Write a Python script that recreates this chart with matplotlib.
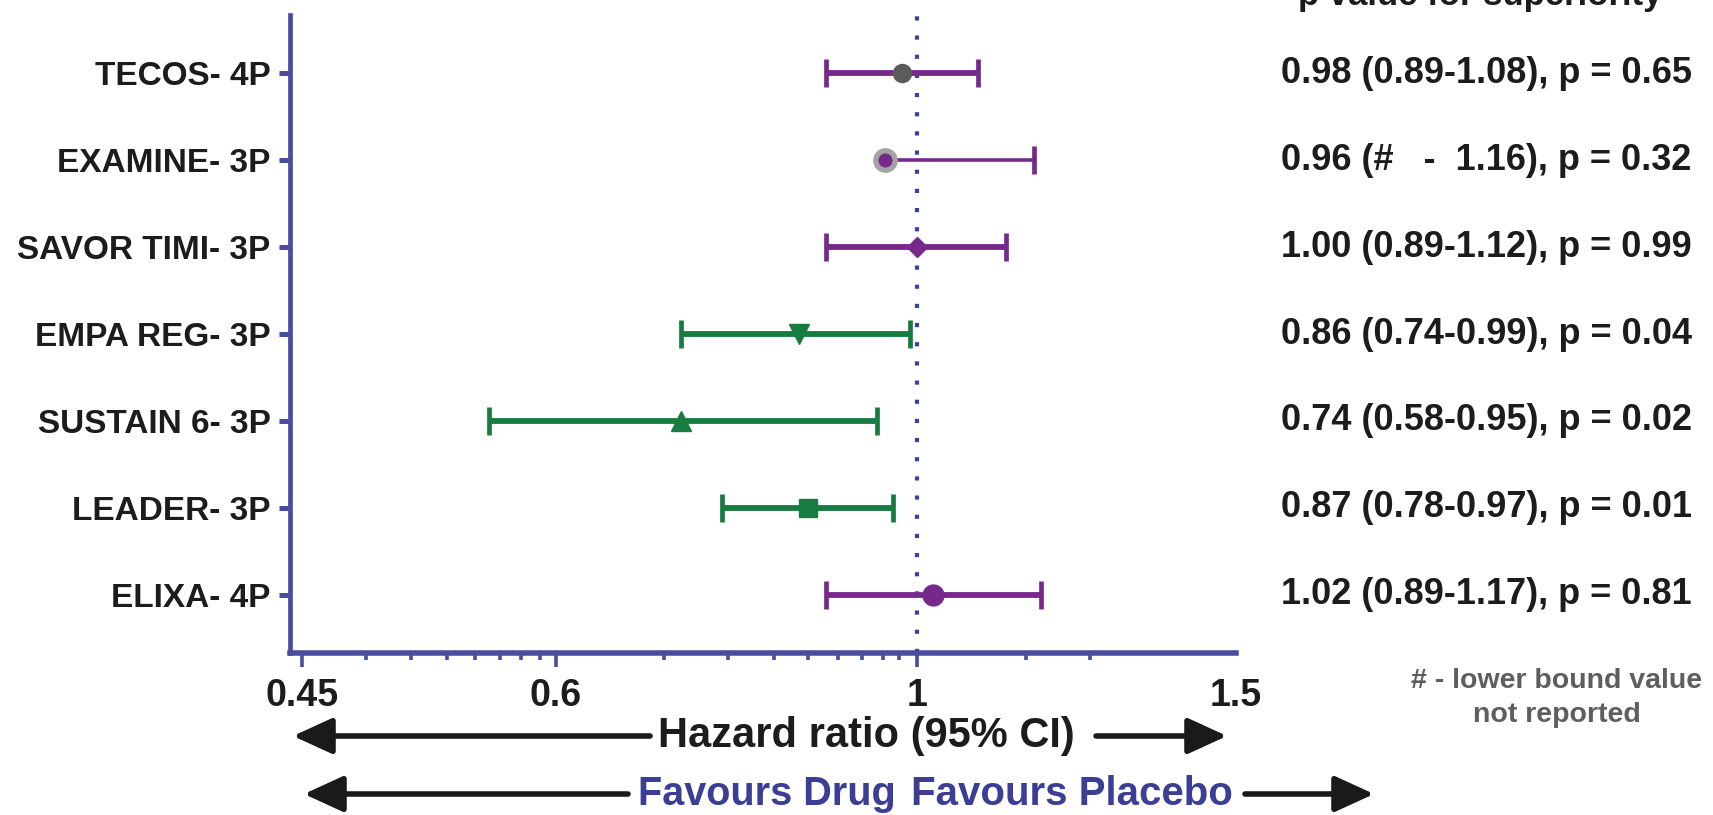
import numpy as np
import matplotlib
matplotlib.use("Agg")
import matplotlib.pyplot as plt
from matplotlib.patches import FancyArrowPatch

plt.rcParams['font.family'] = ['Liberation Sans', 'DejaVu Sans']
plt.rcParams['font.weight'] = 'bold'

# data, top row first
trials = ["TECOS- 4P", "EXAMINE- 3P", "SAVOR TIMI- 3P", "EMPA REG- 3P",
          "SUSTAIN 6- 3P", "LEADER- 3P", "ELIXA- 4P"]
hr = [0.98, 0.96, 1.00, 0.86, 0.74, 0.87, 1.02]
ci_low = [0.89, np.nan, 0.89, 0.74, 0.58, 0.78, 0.89]
ci_high = [1.08, 1.16, 1.12, 0.99, 0.95, 0.97, 1.17]
summary = ["0.98 (0.89-1.08), p = 0.65",
           "0.96 (#   -  1.16), p = 0.32",
           "1.00 (0.89-1.12), p = 0.99",
           "0.86 (0.74-0.99), p = 0.04",
           "0.74 (0.58-0.95), p = 0.02",
           "0.87 (0.78-0.97), p = 0.01",
           "1.02 (0.89-1.17), p = 0.81"]

xtick_vals = [0.457, 0.631, 1.0, 1.5]
xtick_labels = ["0.45", "0.6", "1", "1.5"]
xtick_minor = [0.4955, 0.5248, 0.5497, 0.5697, 0.5882, 0.6041, 0.6189,
               0.7247, 0.7860, 0.8330, 0.8704, 0.9037, 0.9317, 0.9576, 0.9768,
               1.1481, 1.2457]

purple = "#77298b"
green = "#177c40"
axcol = "#4a4d9f"
txt = "#1c1c1c"

styles = [
    dict(color=purple, marker="o", mfc="#5b5b5b", mec="#5b5b5b", ms=13, lw=4.2),
    dict(color=purple, marker="o", mfc=purple, mec="#a3a3a3", ms=14, mew=3.8, lw=2.6),
    dict(color=purple, marker="D", mfc=purple, mec=purple, ms=10, lw=4.2),
    dict(color=green, marker="v", mfc=green, mec=green, ms=14, lw=4.2),
    dict(color=green, marker="^", mfc=green, mec=green, ms=14, lw=4.2),
    dict(color=green, marker="s", mfc=green, mec=green, ms=13, lw=4.2),
    dict(color=purple, marker="o", mfc=purple, mec=purple, ms=15, lw=4.2),
]

fig = plt.figure(figsize=(17.13, 8.15), dpi=100)
ax = fig.add_axes([290/1713, 1-653/815, (1236-290)/1713, (653-15)/815])

n = len(trials)
ypos = np.arange(n, 0, -1)

ax.axvline(1.0, color="#3b3fa3", lw=3, dashes=(1.0, 3.6), zorder=1)

for i in range(n):
    st = styles[i]
    lo = ci_low[i]
    left = 0 if np.isnan(lo) else hr[i] - lo
    right = ci_high[i] - hr[i]
    line, caps, bars = ax.errorbar(hr[i], ypos[i], xerr=[[left], [right]],
                                   fmt="none", ecolor=st["color"],
                                   elinewidth=st["lw"], capsize=10,
                                   capthick=3.4, zorder=2)
    if np.isnan(lo):
        caps[0].set_visible(False)
    ax.plot(hr[i], ypos[i], linestyle="none", marker=st["marker"],
            markersize=st["ms"], markerfacecolor=st["mfc"],
            markeredgecolor=st["mec"], markeredgewidth=st.get("mew", 1),
            zorder=3)

ax.set_xscale("log")
ax.set_xlim(0.45, 1.5)
ax.set_ylim(0.33, 7.67)

ax.set_xticks(xtick_vals)
ax.set_xticklabels(xtick_labels)
ax.set_xticks(xtick_minor, minor=True)
ax.xaxis.set_minor_formatter(plt.NullFormatter())
ax.xaxis.get_major_ticks()[-1].tick1line.set_visible(False)

ax.set_yticks(ypos)
ax.set_yticklabels(trials)

for s in ["top", "right"]:
    ax.spines[s].set_visible(False)
ax.spines["left"].set_color(axcol)
ax.spines["left"].set_linewidth(3.4)
ax.spines["bottom"].set_color(axcol)
ax.spines["bottom"].set_linewidth(4)

ax.tick_params(axis="y", length=8, width=3.6, color=axcol, pad=6,
               labelsize=24, labelcolor=txt)
ax.tick_params(axis="x", which="major", length=10, width=2.6, color=axcol,
               pad=8, labelsize=27, labelcolor=txt)
ax.tick_params(axis="x", which="minor", length=5, width=2.6, color=axcol)

# summary text on the right
for i in range(n):
    ax.annotate(summary[i], xy=(1, ypos[i]), xycoords=("figure fraction", "data"),
                xytext=(1281/1713, 0), textcoords=("figure fraction", "offset points"),
                ha="left", va="center", fontsize=26, color=txt)

fig.text(1480/1713, 1-5/815, "p value for superiority", ha="center",
         va="baseline", fontsize=25, color=txt)

fig.text(1557/1713, 1-698/815, "# - lower bound value\nnot reported",
         ha="center", va="center", fontsize=20.5, color="#5e5e5e",
         linespacing=1.4)

fig.text(866/1713, 1-736/815, "Hazard ratio (95% CI)", ha="center",
         va="center", fontsize=30, color=txt)
fig.text(896/1713, 1-794/815, "Favours Drug", ha="right", va="center",
         fontsize=28.5, color="#3c3e96")
fig.text(911/1713, 1-794/815, "Favours Placebo", ha="left", va="center",
         fontsize=29, color="#3c3e96")


def arrow(x0, x1, y):
    a = FancyArrowPatch((x0/1713, 1-y/815), (x1/1713, 1-y/815),
                        transform=fig.transFigure, arrowstyle="-|>,head_length=1.2,head_width=0.55",
                        mutation_scale=20, lw=4, color="#1a1a1a",
                        shrinkA=0, shrinkB=0)
    fig.add_artist(a)


arrow(650, 293, 736)
arrow(1096, 1227, 736)
arrow(628, 304, 794)
arrow(1245, 1374, 794)

fig.savefig("out.png", dpi=100)
